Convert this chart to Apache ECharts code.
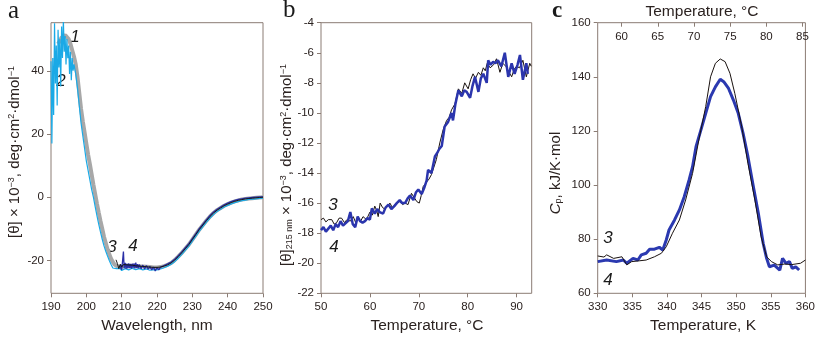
<!DOCTYPE html>
<html><head><meta charset="utf-8">
<script src="https://cdn.jsdelivr.net/npm/echarts@6/dist/echarts.min.js"></script>
<style>html,body{margin:0;padding:0;background:#fff}#c{width:818px;height:343px}</style>
</head><body><div id="c"></div>
<script>
// ---------- tick labels ----------
const aTicksX = [190, 200, 210, 220, 230, 240, 250];
const aTicksY = [-20, 0, 20, 40];
const bTicksX = [50, 60, 70, 80, 90];
const bTicksY = [-22, -20, -18, -16, -14, -12, -10, -8, -6, -4];
const cTicksX = [330, 335, 340, 345, 350, 355, 360];
const cTicksY = [60, 80, 100, 120, 140, 160];
const cTicksTop = [60, 65, 70, 75, 80, 85];

// ---------- panel a: CD spectra [wavelength nm, theta x1e-3] ----------
const a1 = [[192,48.5],[192.5,49.5],[193,50.5],[193.5,51],[194,51.3],[194.5,51],[195,50],[195.5,48.5],[196,46.5],[196.5,44.5],[197,42],[197.5,38],[198,33],[198.5,28],[199,24],[199.5,20.5],[200,17],[200.5,13.5],[201,10.5],[201.5,7.2],[202,4],[202.5,1],[203,-2],[203.5,-4.8],[204,-7.5],[204.5,-10],[205,-12.5],[205.5,-14.5],[206,-16.5],[206.5,-18],[207,-19.5],[207.5,-20.5],[208,-21.3],[208.5,-21.7],[209,-22],[210,-22],[211,-21.9],[212,-21.8],[213,-21.8],[214,-21.8],[215,-21.9],[216,-21.9],[217,-22],[218,-22.1],[219,-22.2],[220,-22.2],[221,-22.1],[222,-21.8],[223,-21.4],[224,-20.8],[225,-19.9],[226,-18.8],[227,-17.6],[228,-16.3],[229,-15],[230,-13.4],[231,-11.8],[232,-10.2],[233,-8.8],[234,-7.4],[235,-6.1],[236,-5],[237,-4.1],[238,-3.4],[239,-2.7],[240,-2.2],[241,-1.7],[242,-1.3],[243,-1],[244,-0.75],[245,-0.55],[246,-0.4],[247,-0.3],[248,-0.2],[249,-0.1],[250,0]];
const a2 = [[190,43],[190.25,17],[190.5,44],[190.75,26],[191,55],[191.25,36],[191.5,48],[191.75,29],[192,53],[192.25,41],[192.5,50],[192.75,35],[193,54],[193.25,44],[193.5,56],[193.75,46],[194,51],[194.25,42],[194.5,50],[194.75,44],[195,48],[195.25,39],[195.5,46],[195.75,37],[196,44],[196.25,40],[196.5,42],[197,39],[197.5,34.5],[198,29],[198.5,23.5],[199,19.5],[199.5,15.5],[200,11.5],[200.5,8.5],[201,5.5],[201.5,2.5],[202,0],[202.5,-3],[203,-5.8],[203.5,-8.5],[204,-11],[204.5,-13.3],[205,-15.4],[205.5,-17.1],[206,-18.6],[206.5,-20],[207,-21.3],[207.5,-22.4],[208,-23],[208.5,-22.6],[209,-23.1],[209.5,-22.5],[210,-23.2],[211,-22.6],[212,-23],[213,-22.5],[214,-22.9],[215,-22.6],[216,-23],[217,-22.7],[218,-23.1],[219,-22.9],[220,-23],[221,-22.7],[222,-22.3],[223,-21.8],[224,-21.2],[225,-20.4],[226,-19.3],[227,-18.1],[228,-16.8],[229,-15.5],[230,-13.9],[231,-12.3],[232,-10.7],[233,-9.3],[234,-7.9],[235,-6.6],[236,-5.5],[237,-4.5],[238,-3.8],[239,-3.1],[240,-2.6],[241,-2.1],[242,-1.7],[243,-1.4],[244,-1.1],[245,-0.9],[246,-0.7],[247,-0.6],[248,-0.5],[249,-0.4],[250,-0.3]];
const a3 = [[208.4,-19.8],[208.8,-21],[209.2,-22.6],[209.6,-21.2],[210,-22.1],[210.5,-21.3],[211,-21.9],[211.5,-21.4],[212,-21.8],[213,-21.5],[214,-21.7],[215,-21.8],[216,-21.9],[217,-22],[218,-22.1],[219,-22.2],[220,-22.2],[221,-22.1],[222,-21.8],[223,-21.4],[224,-20.8],[225,-19.9],[226,-18.8],[227,-17.6],[228,-16.3],[229,-15],[230,-13.4],[231,-11.8],[232,-10.2],[233,-8.8],[234,-7.4],[235,-6.1],[236,-5],[237,-4.1],[238,-3.4],[239,-2.7],[240,-2.2],[241,-1.7],[242,-1.3],[243,-1],[244,-0.75],[245,-0.55],[246,-0.4],[247,-0.3],[248,-0.2],[249,-0.1],[250,0]];
const a4 = [[209.6,-22.6],[209.8,-21.4],[210,-23],[210.2,-20.8],[210.5,-17.2],[210.7,-22.4],[211,-20.8],[211.25,-22.7],[211.5,-21],[211.75,-22.5],[212,-20.9],[212.25,-22.4],[212.5,-21.1],[212.75,-22.6],[213,-21],[213.25,-22.3],[213.5,-20.9],[213.75,-22.5],[214,-20.7],[214.25,-22.4],[214.5,-21.2],[214.75,-22.5],[215,-21.3],[215.5,-22.6],[216,-21.5],[216.5,-22.7],[217,-21.6],[217.5,-22.8],[218,-21.9],[218.5,-23],[219,-22.1],[219.5,-23.3],[220,-22.3],[220.5,-23],[221,-22.1],[221.5,-22.5],[222,-21.6],[223,-21.1],[224,-20.5],[225,-19.6],[226,-18.5],[227,-17.3],[228,-16],[229,-14.7],[230,-13.1],[231,-11.5],[232,-9.9],[233,-8.5],[234,-7.1],[235,-5.8],[236,-4.7],[237,-3.8],[238,-3.1],[239,-2.4],[240,-1.9],[241,-1.4],[242,-1],[243,-0.7],[244,-0.5],[245,-0.3],[246,-0.2],[247,-0.1],[248,0],[249,0.1],[250,0.1]];

// ---------- panel b: theta215 vs temperature [°C, theta x1e-3] ----------
const b3 = [[50,-17.1],[50.5,-17.0],[51,-17.25],[51.5,-17.1],[52.2,-17.1],[52.7,-17.4],[53.2,-17.3],[53.7,-17.0],[54.2,-17.0],[54.8,-17.3],[55.3,-17.1],[56,-17.2],[56.6,-16.9],[57.1,-17.3],[57.6,-17.0],[58.1,-17.2],[58.6,-16.9],[59.3,-17.1],[60,-16.6],[60.5,-16.8],[61,-16.2],[61.4,-16.5],[61.7,-16.9],[62.1,-16.0],[62.6,-16.3],[63.1,-16.4],[63.6,-16.2],[64.1,-16.0],[64.6,-16.3],[65.1,-16.1],[65.6,-16.0],[66.1,-15.9],[66.7,-16.1],[67.2,-16.0],[67.8,-16.1],[68.5,-15.35],[69,-15.6],[69.6,-15.9],[70.1,-16.0],[70.5,-15.5],[70.9,-14.9],[71.6,-14.6],[72.1,-14.4],[72.6,-14.1],[73.1,-13.6],[73.6,-13.1],[74.3,-12.0],[75,-11.1],[75.7,-10.5],[76.2,-10.3],[76.7,-9.8],[77.4,-9.4],[78.1,-8.4],[78.8,-8.7],[79.4,-8.0],[80.1,-8.4],[80.6,-7.8],[81.1,-7.4],[81.6,-7.7],[82.2,-7.3],[82.7,-7.5],[83.2,-7.0],[83.6,-7.2],[84,-6.7],[84.6,-7.0],[85.3,-6.8],[85.9,-6.4],[86.6,-7.3],[87.2,-6.7],[87.8,-6.9],[88.3,-7.2],[89,-7.6],[89.5,-7.1],[90,-6.9],[90.6,-7.0],[91.3,-6.5],[92,-7.6],[92.7,-6.7],[93,-6.9]];
const b4 = [[50,-17.8],[50.5,-17.6],[51,-17.9],[51.5,-17.7],[52,-17.5],[52.5,-17.8],[53,-17.4],[53.5,-17.6],[54,-17.2],[54.5,-17.5],[55,-17.35],[55.5,-17.2],[56,-16.6],[56.5,-17.4],[57,-17.6],[57.5,-16.9],[58,-17.2],[58.5,-17.3],[59,-17.2],[59.5,-17.0],[60,-17.1],[60.4,-16.35],[61,-16.7],[61.5,-16.4],[62,-16.6],[62.7,-16.7],[63.2,-16.3],[63.8,-16.1],[64.4,-16.4],[65,-16.2],[65.5,-16.0],[66.1,-15.8],[66.6,-16.0],[67.2,-16.0],[67.7,-15.7],[68.2,-15.5],[68.9,-15.8],[69.4,-15.3],[69.9,-15.1],[70.6,-15.4],[71.1,-15.0],[71.6,-14.5],[71.9,-13.8],[72.6,-14.0],[73.3,-12.9],[73.7,-12.7],[74.2,-12.4],[74.7,-12.2],[75.3,-10.9],[76,-10.6],[76.7,-10.0],[77,-10.5],[77.5,-9.4],[78.1,-8.5],[78.8,-8.9],[79.3,-8.5],[79.8,-8.6],[80.5,-9.0],[81,-8.2],[81.5,-7.6],[82.2,-8.6],[82.7,-7.7],[83.2,-7.4],[83.9,-8.0],[84.2,-6.5],[84.7,-6.8],[85.2,-6.6],[85.7,-6.7],[86.2,-6.5],[86.9,-6.9],[87.6,-6.0],[88.3,-7.6],[89,-6.7],[89.6,-7.4],[90.2,-6.8],[90.7,-6.15],[91.3,-7.8],[92,-6.7],[92.3,-7.4]];

// ---------- panel c: DSC [K, kJ/K·mol] ----------
const c3 = [[330,73.8],[330.9,73.4],[331.3,74.2],[332.3,72.9],[333.5,73.5],[334.2,70.5],[334.9,71.7],[336,72],[337,72.3],[338.2,73.5],[339.2,74.8],[339.9,77.2],[340.8,82.2],[341.8,87.1],[342.7,94.5],[343.7,104.3],[344.6,116.6],[345.6,129.0],[346.3,140.0],[347,145.0],[347.7,146.6],[348.4,145.6],[349.1,141.3],[349.8,133.9],[350.8,121.6],[351.7,108.0],[352.7,94.5],[353.6,80.9],[354.4,73.5],[355.1,71.7],[356,70.5],[357,70.8],[358,70.6],[359.3,71.1],[360,72.3]];
const c4 = [[330,71.7],[331.3,72.3],[332.7,71.7],[333.7,72.3],[334.2,71.1],[335.1,72.9],[335.8,72.3],[336.3,74.2],[337,74.8],[337.5,76.3],[338.2,76.3],[338.9,77.0],[339.4,76.0],[339.9,79.7],[340.3,83.4],[341.1,87.1],[341.8,90.8],[342.5,95.7],[343.2,101.9],[343.7,106.8],[344.2,114.2],[344.9,120.3],[345.6,126.5],[346.3,132.7],[347,136.3],[347.7,139.1],[348.2,138.2],[348.9,135.7],[349.6,131.4],[350.3,126.5],[351,119.1],[351.7,110.5],[352.4,100.6],[353.2,89.6],[353.9,78.5],[354.4,72.9],[354.8,69.8],[355.5,70.4],[356.3,68.6],[356.7,72.9],[357.2,71.1],[357.7,71.7],[358.1,69.2],[358.6,69.8],[359.1,68.6]];

const FONT = 'Liberation Sans, Arial, Helvetica, sans-serif';
const AX = '#8b7c74', TXT = '#2b2220';

function xAx(grid, min, max, ticks) {
  return { type: 'value', gridIndex: grid, min, max, position: 'bottom',
    axisLine: { show: false, onZero: false }, splitLine: { show: false },
    axisTick: { show: true, inside: false, length: 4, lineStyle: { color: AX }, customValues: ticks },
    axisLabel: { customValues: ticks, margin: 8, fontSize: 11.5, color: TXT, fontFamily: FONT } };
}
function yAx(grid, min, max, ticks) {
  return { type: 'value', gridIndex: grid, min, max,
    axisLine: { show: false, onZero: false }, splitLine: { show: false },
    axisTick: { show: true, inside: false, length: 4, lineStyle: { color: AX }, customValues: ticks },
    axisLabel: { customValues: ticks, margin: 7, fontSize: 11.5, color: TXT, fontFamily: FONT } };
}
function ln(data, xi, yi, color, width, z) {
  return { type: 'line', data, xAxisIndex: xi, yAxisIndex: yi, showSymbol: false, symbol: 'none',
    lineStyle: { color, width }, z, animation: false, clip: true };
}
function txt(x, y, text, size, opts) {
  return Object.assign({ type: 'text', x, y, style: { text, font: size + 'px ' + FONT, fill: TXT, align: 'center', verticalAlign: 'middle' } }, opts || {});
}
function lbl(x, y, t) {
  return { type: 'text', x, y, style: { text: t, font: 'italic 17px ' + FONT, fill: '#1a1a1a', align: 'center', verticalAlign: 'middle' } };
}
const supS = { fontSize: 9, verticalAlign: 'top', fontFamily: FONT, fill: TXT, padding: [0, 0, 6, 0] };
const subS = { fontSize: 9, verticalAlign: 'bottom', fontFamily: FONT, fill: TXT, padding: [6, 0, 0, 0] };
const mainS = { fontSize: 15, fontFamily: FONT, fill: TXT };

const chart = echarts.init(document.getElementById('c'), null, { renderer: 'canvas' });
chart.setOption({
  animation: false,
  backgroundColor: '#fff',
  grid: [
    { left: 51, top: 22.7, width: 212, height: 270.6, show: true, borderColor: AX, borderWidth: 1 },
    { left: 321, top: 22.7, width: 210.7, height: 270.6, show: true, borderColor: AX, borderWidth: 1 },
    { left: 597.7, top: 22.7, width: 210.6, height: 270.6, show: true, borderColor: AX, borderWidth: 1 }
  ],
  xAxis: [
    xAx(0, 190, 250, aTicksX),
    xAx(1, 50, 93.1, bTicksX),
    xAx(2, 330, 360, cTicksX),
    { type: 'value', gridIndex: 2, min: 56.7, max: 85.4, position: 'top',
      axisLine: { show: false, onZero: false }, splitLine: { show: false },
      axisTick: { show: true, inside: true, length: 4, lineStyle: { color: AX }, customValues: cTicksTop },
      axisLabel: { inside: true, customValues: cTicksTop, margin: 8, fontSize: 11.5, color: TXT, fontFamily: FONT } }
  ],
  yAxis: [
    yAx(0, -30.4, 55.2, aTicksY),
    yAx(1, -22, -4, bTicksY),
    yAx(2, 60, 160, cTicksY)
  ],
  series: [
    ln(a1, 0, 0, '#a8a8a8', 4, 1),
    ln(a2, 0, 0, '#1aa9e6', 1.2, 2),
    ln(a4, 0, 0, '#2a2fa6', 1.3, 3),
    ln(a3, 0, 0, '#151515', 1, 4),
    ln(b3, 1, 1, '#1a1210', 1, 2),
    ln(b4, 1, 1, '#2b35ad', 2.5, 3),
    ln(c3, 2, 2, '#1a1210', 1, 3),
    ln(c4, 2, 2, '#2b39b0', 3, 2)
  ],
  graphic: [
    { type: 'text', x: 8, y: 11, style: { text: 'a', font: '25px Liberation Serif, DejaVu Serif, serif', fill: '#1a1a1a', align: 'left', verticalAlign: 'middle' } },
    { type: 'text', x: 283, y: 10, style: { text: 'b', font: '25px Liberation Serif, DejaVu Serif, serif', fill: '#1a1a1a', align: 'left', verticalAlign: 'middle' } },
    { type: 'text', x: 552, y: 11, style: { text: 'c', font: 'bold 23px Liberation Serif, DejaVu Serif, serif', fill: '#1a1a1a', align: 'left', verticalAlign: 'middle' } },
    txt(157, 326, 'Wavelength, nm', 15.5),
    txt(427, 326, 'Temperature, °C', 15.5),
    txt(703, 326, 'Temperature, K', 15.5),
    txt(702, 12, 'Temperature, °C', 15.5),
    { type: 'text', x: 15, y: 152, rotation: Math.PI / 2,
      style: { text: '{m|[θ] × 10}{s|−3}{m|, deg·cm}{s|2}{m|·dmol}{s|−1}', align: 'center', verticalAlign: 'middle',
        rich: { m: mainS, s: supS } } },
    { type: 'text', x: 287, y: 165, rotation: Math.PI / 2,
      style: { text: '{m|[θ]}{b|215 nm}{m| × 10}{s|−3}{m|, deg·cm}{s|2}{m|·dmol}{s|−1}', align: 'center', verticalAlign: 'middle',
        rich: { m: mainS, s: supS, b: subS } } },
    { type: 'text', x: 556, y: 173, rotation: Math.PI / 2,
      style: { text: '{i|C}{b|p}{m|, kJ/K·mol}', align: 'center', verticalAlign: 'middle',
        rich: { m: mainS, i: { fontSize: 15, fontStyle: 'italic', fontFamily: FONT, fill: TXT }, b: subS } } },
    lbl(75, 37, '1'), lbl(61, 81, '2'), lbl(112, 247, '3'), lbl(133, 246, '4'),
    lbl(333, 205, '3'), lbl(334, 247, '4'),
    lbl(608, 238, '3'), lbl(608, 280, '4')
  ]
});
</script></body></html>
